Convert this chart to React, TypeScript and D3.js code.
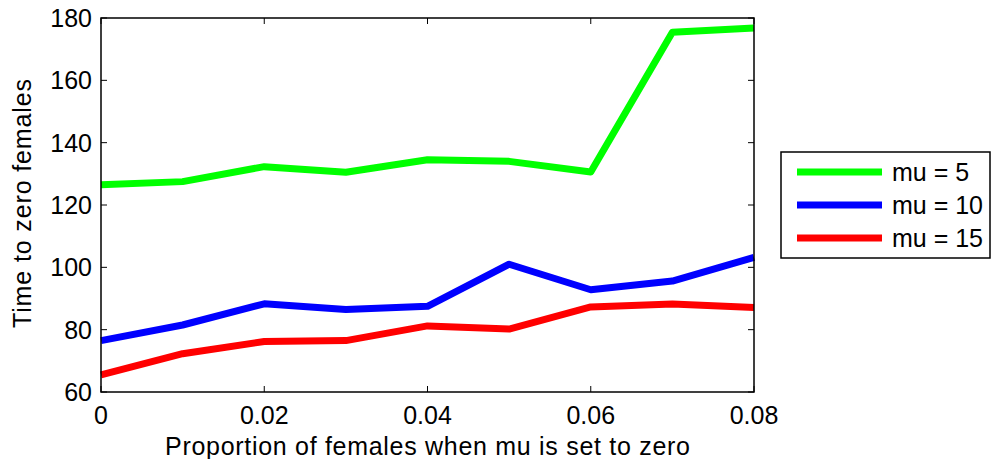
import React, { useEffect, useRef } from 'react';
import * as d3 from 'd3';

const proportions = [0, 0.01, 0.02, 0.03, 0.04, 0.05, 0.06, 0.07, 0.08];
const mu5 = [126.5, 127.5, 132.3, 130.5, 134.5, 134, 130.6, 175.4, 176.8];
const mu10 = [76.5, 81.5, 88.3, 86.5, 87.5, 101, 92.8, 95.6, 103.2];
const mu15 = [65.5, 72.3, 76.2, 76.5, 81.2, 80.2, 87.3, 88.2, 87.1];
const seriesNames = ['mu = 5', 'mu = 10', 'mu = 15'];
const seriesColors = ['#00ff00', '#0000ff', '#ff0000'];
const xTicks = [0, 0.02, 0.04, 0.06, 0.08];
const yTicks = [60, 80, 100, 120, 140, 160, 180];

export default function App() {
  const ref = useRef<SVGSVGElement>(null);
  const width = 991, height = 459;

  useEffect(() => {
    if (!ref.current) return;
    const svg = d3.select(ref.current);
    svg.selectAll('*').remove();

    const m = { left: 101, top: 18, right: 754, bottom: 392 };
    const x = d3.scaleLinear().domain([0, 0.08]).range([m.left, m.right]);
    const y = d3.scaleLinear().domain([60, 180]).range([m.bottom, m.top]);
    const font = 'Liberation Sans, Arial, sans-serif';
    const fs = 25;
    const tl = 6;

    svg.append('rect').attr('width', width).attr('height', height).attr('fill', '#fff');

    const series = [mu5, mu10, mu15];
    const line = d3.line<number>().x((_, i) => x(proportions[i])).y(d => y(d));
    const g = svg.append('g');
    series.forEach((s, i) => {
      g.append('path').datum(s).attr('d', line).attr('fill', 'none')
        .attr('stroke', seriesColors[i]).attr('stroke-width', 7).attr('stroke-linejoin', 'round');
    });

    // box
    svg.append('rect').attr('x', m.left).attr('y', m.top)
      .attr('width', m.right - m.left).attr('height', m.bottom - m.top)
      .attr('fill', 'none').attr('stroke', '#000').attr('stroke-width', 1.5);

    const ax = svg.append('g').attr('stroke', '#000').attr('stroke-width', 1);
    xTicks.forEach(t => {
      ax.append('line').attr('x1', x(t)).attr('x2', x(t)).attr('y1', m.bottom).attr('y2', m.bottom - tl);
      ax.append('line').attr('x1', x(t)).attr('x2', x(t)).attr('y1', m.top).attr('y2', m.top + tl);
    });
    yTicks.forEach(t => {
      ax.append('line').attr('y1', y(t)).attr('y2', y(t)).attr('x1', m.left).attr('x2', m.left + tl);
      ax.append('line').attr('y1', y(t)).attr('y2', y(t)).attr('x1', m.right).attr('x2', m.right - tl);
    });

    svg.append('g').selectAll('text').data(xTicks).enter().append('text')
      .attr('x', d => x(d)).attr('y', 424).attr('text-anchor', 'middle')
      .attr('font-family', font).attr('font-size', fs).text(d => String(d));
    svg.append('g').selectAll('text').data(yTicks).enter().append('text')
      .attr('x', 92).attr('y', d => y(d) + 9).attr('text-anchor', 'end')
      .attr('font-family', font).attr('font-size', fs).text(d => String(d));

    svg.append('text').attr('x', 165).attr('y', 455)
      .attr('textLength', 525).attr('lengthAdjust', 'spacing')
      .attr('font-family', font).attr('font-size', fs).text('Proportion of females when mu is set to zero');
    svg.append('text').attr('transform', `translate(31,328) rotate(-90)`)
      .attr('textLength', 249).attr('lengthAdjust', 'spacing')
      .attr('font-family', font).attr('font-size', fs)
      .text('Time to zero females');

    // legend
    const lg = svg.append('g');
    lg.append('rect').attr('x', 781).attr('y', 152).attr('width', 209).attr('height', 106)
      .attr('fill', '#fff').attr('stroke', '#000').attr('stroke-width', 1.5);
    seriesNames.forEach((n, i) => {
      const yy = 172 + i * 33;
      lg.append('line').attr('x1', 797).attr('x2', 882).attr('y1', yy).attr('y2', yy)
        .attr('stroke', seriesColors[i]).attr('stroke-width', 7);
      lg.append('text').attr('x', 892).attr('y', yy + 9).attr('font-family', font)
        .attr('font-size', fs).text(n);
    });
  }, []);

  return (
    <svg ref={ref} width={width} height={height}
      style={{ position: 'absolute', left: 0, top: 0, display: 'block' }} />
  );
}
